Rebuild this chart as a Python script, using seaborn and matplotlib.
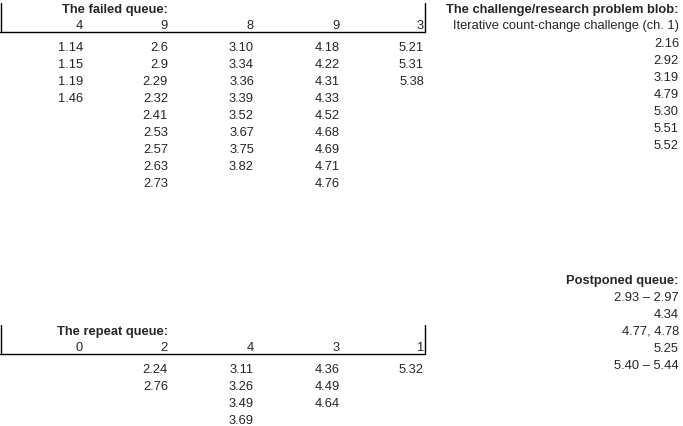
import matplotlib
matplotlib.use("Agg")
import matplotlib.pyplot as plt
import seaborn as sns

sns.set_theme(style="white")
plt.rcParams['font.family'] = ['Liberation Sans', 'DejaVu Sans']

failed_counts = [4, 9, 8, 9, 3]
failed_cols = [
    ["1.14", "1.15", "1.19", "1.46"],
    ["2.6", "2.9", "2.29", "2.32", "2.41", "2.53", "2.57", "2.63", "2.73"],
    ["3.10", "3.34", "3.36", "3.39", "3.52", "3.67", "3.75", "3.82"],
    ["4.18", "4.22", "4.31", "4.33", "4.52", "4.68", "4.69", "4.71", "4.76"],
    ["5.21", "5.31", "5.38"],
]
repeat_counts = [0, 2, 4, 3, 1]
repeat_cols = [
    [],
    ["2.24", "2.76"],
    ["3.11", "3.26", "3.49", "3.69"],
    ["4.36", "4.49", "4.64"],
    ["5.32"],
]
blob_title = "The challenge/research problem blob:"
blob_sub = "Iterative count-change challenge (ch. 1)"
blob_vals = ["2.16", "2.92", "3.19", "4.79", "5.30", "5.51", "5.52"]
postponed_title = "Postponed queue:"
postponed_vals = ["2.93 \u2013 2.97", "4.34", "4.77, 4.78", "5.25", "5.40 \u2013 5.44"]

W, H = 683, 427
fig = plt.figure(figsize=(W / 100, H / 100), dpi=100)
ax = fig.add_axes([0, 0, 1, 1])
ax.set_xlim(0, W)
ax.set_ylim(H, 0)
ax.axis("off")

col_x = [83, 168, 254, 340, 424]
step = 17
fs = 9.3

def table(title, counts, cols, y_title):
    ax.text(168, y_title, title, ha="right", va="center", fontsize=fs, fontweight="bold")
    y_head = y_title + 16
    for x, c in zip(col_x, counts):
        ax.text(x, y_head, str(c), ha="right", va="center", fontsize=fs)
    y_line = y_head + 7
    ax.plot([0, 425], [y_line, y_line], color="black", lw=1)
    ax.plot([0.5, 0.5], [y_title - 6, y_line], color="black", lw=1)
    ax.plot([425, 425], [y_title - 6, y_line], color="black", lw=1)
    for x, vals in zip(col_x, cols):
        for i, v in enumerate(vals):
            ax.text(x, y_head + 22 + i * step, v, ha="right", va="center", fontsize=fs)

table("The failed queue:", failed_counts, failed_cols, 10)
table("The repeat queue:", repeat_counts, repeat_cols, 332)

rx = 679
ax.text(rx, 10, blob_title, ha="right", va="center", fontsize=fs, fontweight="bold")
ax.text(rx, 26, blob_sub, ha="right", va="center", fontsize=fs)
for i, v in enumerate(blob_vals):
    ax.text(rx, 44 + i * step, v, ha="right", va="center", fontsize=fs)

ax.text(rx, 281, postponed_title, ha="right", va="center", fontsize=fs, fontweight="bold")
for i, v in enumerate(postponed_vals):
    ax.text(rx, 298 + i * step, v, ha="right", va="center", fontsize=fs)

fig.savefig("out.png", dpi=100)
